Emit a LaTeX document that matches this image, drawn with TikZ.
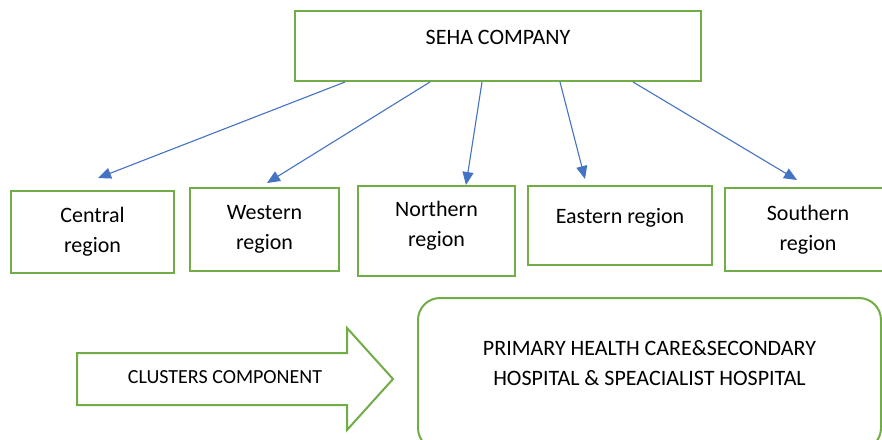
\documentclass[tikz,border=0pt]{standalone}
\usepackage{fontspec}
\setmainfont{Carlito}
\usetikzlibrary{arrows.meta}
\definecolor{boxgreen}{HTML}{70AD47}
\definecolor{arrowblue}{HTML}{4472C4}
\begin{document}
\begin{tikzpicture}[x=1pt,y=-1pt,
  regionbox/.style={draw=boxgreen,line width=2pt,rectangle,align=center,inner sep=0pt,
    font=\fontsize{22}{30}\selectfont},
  boxtext/.style={font=\fontsize{22}{30}\selectfont,align=center,inner sep=0pt},
  link/.style={draw=arrowblue,line width=1.1pt,-{Triangle[length=13pt,width=11pt]}},
]
\useasboundingbox (0,0) rectangle (882,439);
\clip (0,0) rectangle (882,439);

% top box
\node[regionbox,minimum width=406pt,minimum height=70pt,
  label={[boxtext,yshift=9pt]center:SEHA COMPANY}] (seha) at (498,46) {};

% region boxes
\node[regionbox,minimum width=163pt,minimum height=82pt] (central) at (92.5,232) {Central\\region};
\node[regionbox,minimum width=149pt,minimum height=83pt] (western) at (264.5,229.5) {Western\\region};
\node[regionbox,minimum width=157pt,minimum height=90pt,
  label={[boxtext,yshift=5pt]center:Northern\\region}] (northern) at (436.5,231) {};
\node[regionbox,minimum width=184pt,minimum height=79pt,
  label={[boxtext,yshift=8pt]center:Eastern region}] (eastern) at (620,225.5) {};
\node[regionbox,minimum width=166pt,minimum height=83pt] (southern) at (808,229.5) {Southern\\region};

% connector end points
\coordinate (s1) at (345,82);
\coordinate (s2) at (430,82);
\coordinate (s3) at (482,82);
\coordinate (s4) at (560,82);
\coordinate (s5) at (633,82);
\coordinate (t1) at (98,178);
\coordinate (t2) at (267,183);
\coordinate (t3) at (466,185);
\coordinate (t4) at (585,179);
\coordinate (t5) at (797,180);

\draw[link] (s1) -- (t1);
\draw[link] (s2) -- (t2);
\draw[link] (s3) -- (t3);
\draw[link] (s4) -- (t4);
\draw[link] (s5) -- (t5);

% big block arrow
\draw[boxgreen,line width=2pt,line join=miter,fill=white]
  (77,353) -- (347,353) -- (347,328) -- (393,379) -- (347,430) -- (347,405) -- (77,405) -- cycle;
\node[font=\fontsize{20}{24}\selectfont,inner sep=0pt] (clusters) at (225,377) {CLUSTERS COMPONENT};

% rounded box
\node[draw=boxgreen,line width=2pt,rounded corners=22pt,minimum width=463pt,minimum height=152pt,
  inner sep=0pt,label={[boxtext,yshift=11pt]center:PRIMARY HEALTH CARE\&SECONDARY\\HOSPITAL \& SPEACIALIST HOSPITAL}]
  (primary) at (649.5,374) {};
\end{tikzpicture}
\end{document}
